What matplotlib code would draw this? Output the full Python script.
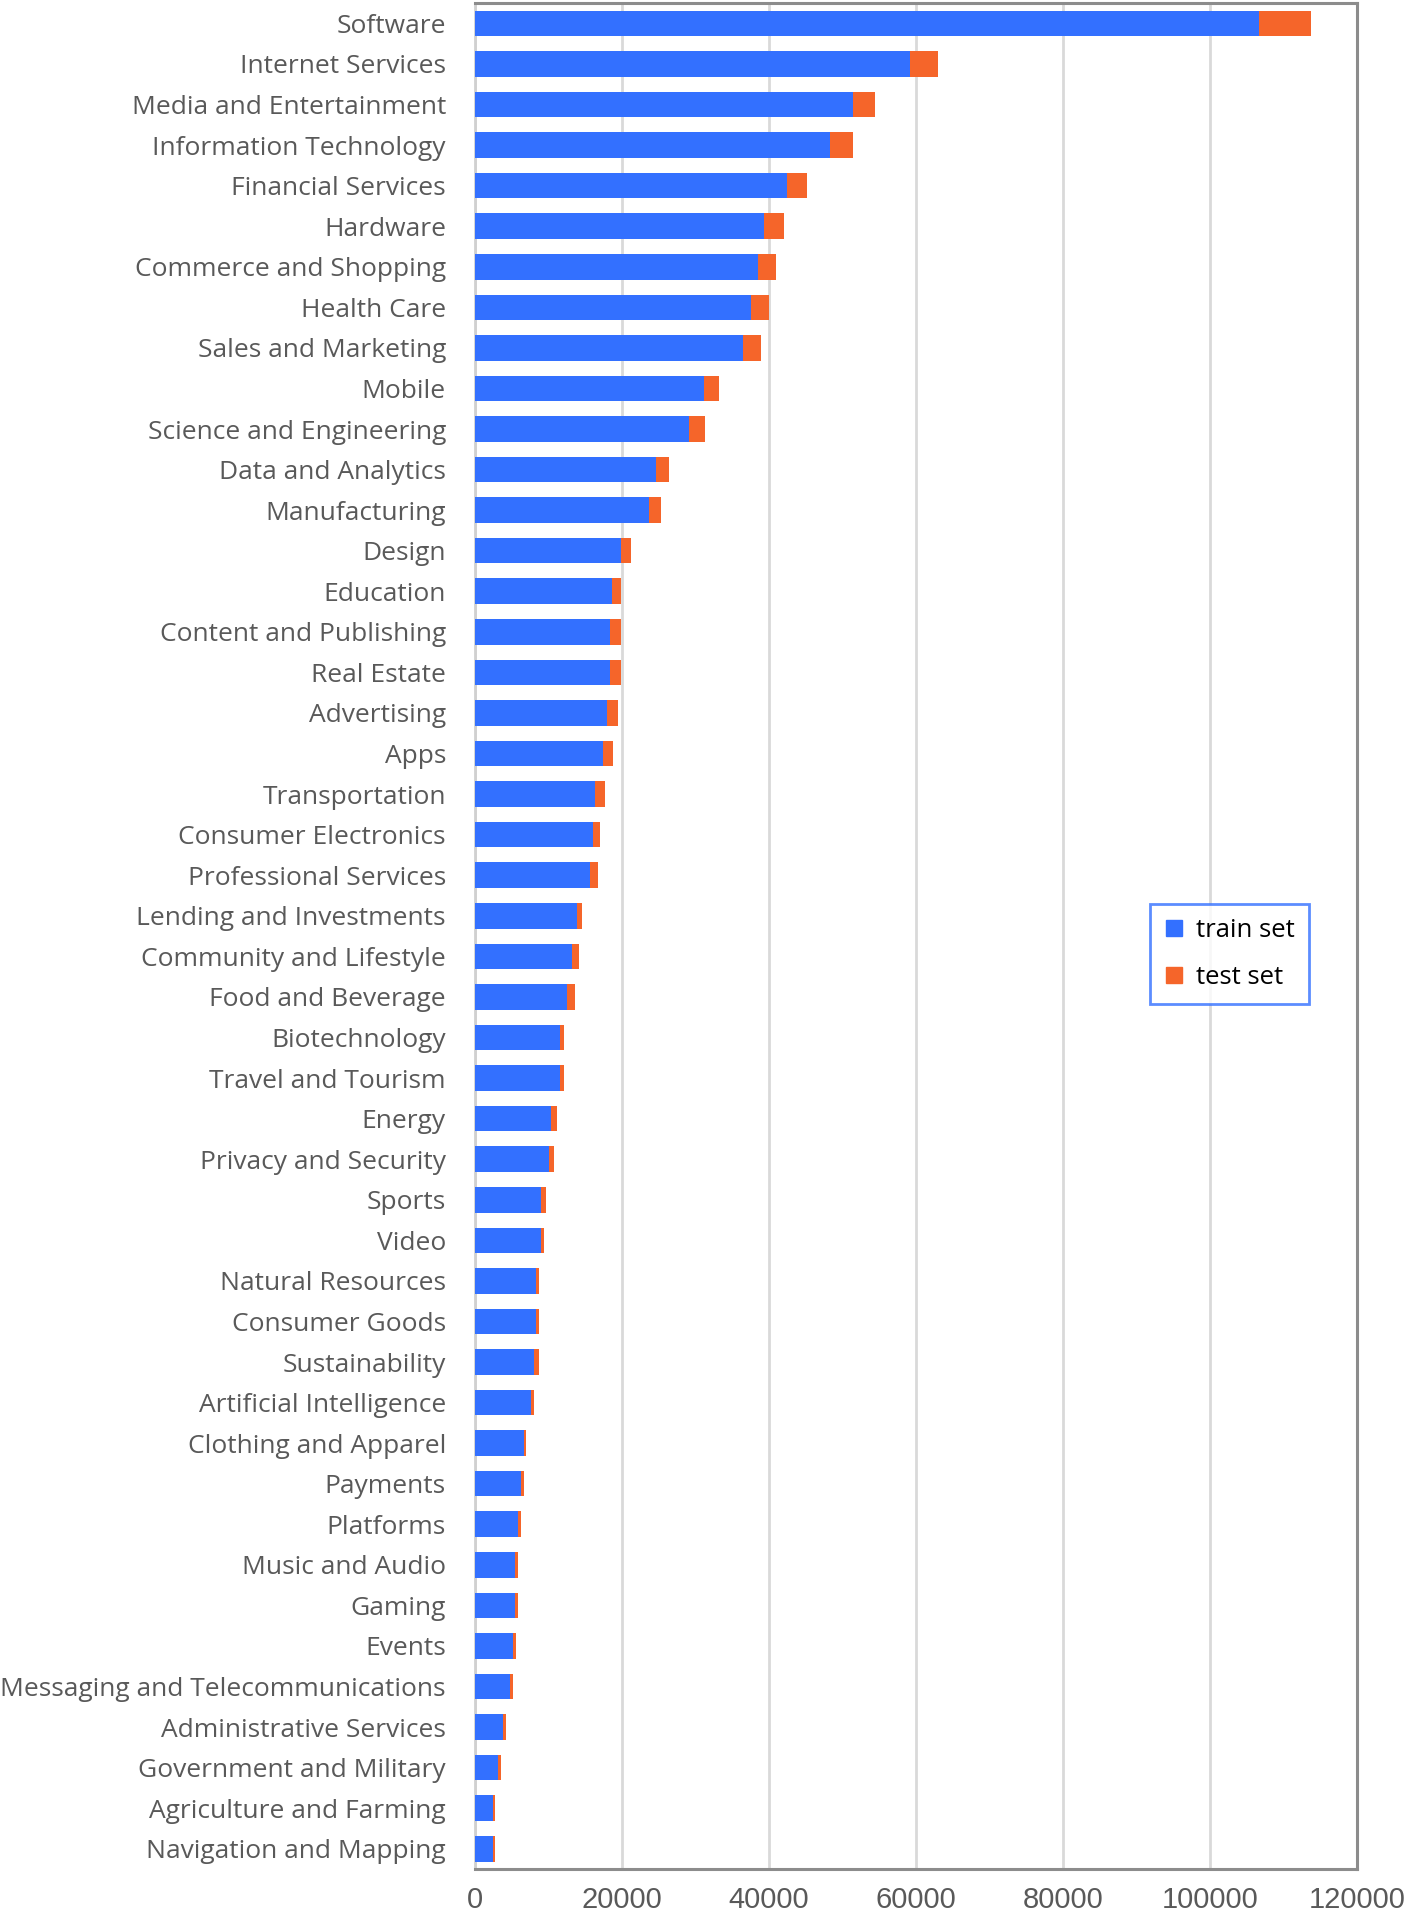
import matplotlib
matplotlib.use("Agg")
import matplotlib.pyplot as plt
from matplotlib.lines import Line2D

# Categories, top to bottom
categories = [
    "Software", "Internet Services", "Media and Entertainment", "Information Technology",
    "Financial Services", "Hardware", "Commerce and Shopping", "Health Care",
    "Sales and Marketing", "Mobile", "Science and Engineering", "Data and Analytics",
    "Manufacturing", "Design", "Education", "Content and Publishing", "Real Estate",
    "Advertising", "Apps", "Transportation", "Consumer Electronics",
    "Professional Services", "Lending and Investments", "Community and Lifestyle",
    "Food and Beverage", "Biotechnology", "Travel and Tourism", "Energy",
    "Privacy and Security", "Sports", "Video", "Natural Resources", "Consumer Goods",
    "Sustainability", "Artificial Intelligence", "Clothing and Apparel", "Payments",
    "Platforms", "Music and Audio", "Gaming", "Events",
    "Messaging and Telecommunications", "Administrative Services",
    "Government and Military", "Agriculture and Farming", "Navigation and Mapping",
]

train_set = [
    106700, 59200, 51400, 48300, 42400, 39300, 38500, 37600, 36500, 31100,
    29100, 24600, 23600, 19800, 18700, 18400, 18400, 18000, 17400, 16300,
    16000, 15600, 13900, 13200, 12500, 11500, 11500, 10400, 10100, 9000,
    9000, 8300, 8300, 8000, 7600, 6600, 6200, 5900, 5500, 5500,
    5200, 4800, 3800, 3100, 2400, 2400,
]

test_set = [
    7000, 3800, 3000, 3100, 2800, 2700, 2500, 2400, 2400, 2100,
    2200, 1800, 1700, 1400, 1100, 1400, 1400, 1500, 1400, 1400,
    1000, 1100, 700, 1000, 1100, 600, 600, 700, 700, 700,
    400, 400, 400, 700, 400, 300, 400, 400, 400, 400,
    400, 400, 400, 400, 300, 300,
]

xticks = [0, 20000, 40000, 60000, 80000, 100000, 120000]

BLUE = "#3370FF"
ORANGE = "#F5652A"
TEXT = "#595959"

fig = plt.figure(figsize=(14.08, 19.17), dpi=100)
ax = fig.add_axes([0.3374, 0.025, 0.6264, 0.9734])

y = list(range(len(categories)))
ax.barh(y, train_set, height=0.63, color=BLUE, label="train set", zorder=3)
ax.barh(y, test_set, left=train_set, height=0.63, color=ORANGE, label="test set", zorder=3)

ax.set_xlim(0, 120000)
ax.set_ylim(len(categories) - 0.5, -0.5)
ax.set_xticks(xticks)
ax.set_xticklabels([str(v) for v in xticks], fontfamily="Liberation Sans", fontsize=21, color=TEXT)
ax.set_yticks(y)
ax.set_yticklabels(categories, fontfamily="Open Sans", fontsize=19, color=TEXT)
ax.tick_params(axis="y", length=0, pad=21)
ax.tick_params(axis="x", length=0, pad=12)

ax.grid(axis="x", color="#D9D9D9", linewidth=2, zorder=0)
for side in ["top", "right", "bottom"]:
    ax.spines[side].set_color("#8C8C8C")
    ax.spines[side].set_linewidth(2.2)
ax.spines["left"].set_color("#D0D0D0")
ax.spines["left"].set_linewidth(2)

handles = [
    Line2D([], [], linestyle="none", marker="s", markersize=11, color=BLUE),
    Line2D([], [], linestyle="none", marker="s", markersize=11, color=ORANGE),
]
leg = fig.legend(
    handles, ["train set", "test set"],
    loc="upper left", bbox_to_anchor=(0.8168, 0.5284),
    prop={"family": "Open Sans", "size": 18.5},
    frameon=True, fancybox=False, borderaxespad=0,
    handlelength=0.8, handletextpad=0.45, labelspacing=0.85,
    borderpad=0.55,
)
leg.get_frame().set_edgecolor(BLUE)
leg.get_frame().set_linewidth(2)

fig.savefig("out.png", dpi=100)
